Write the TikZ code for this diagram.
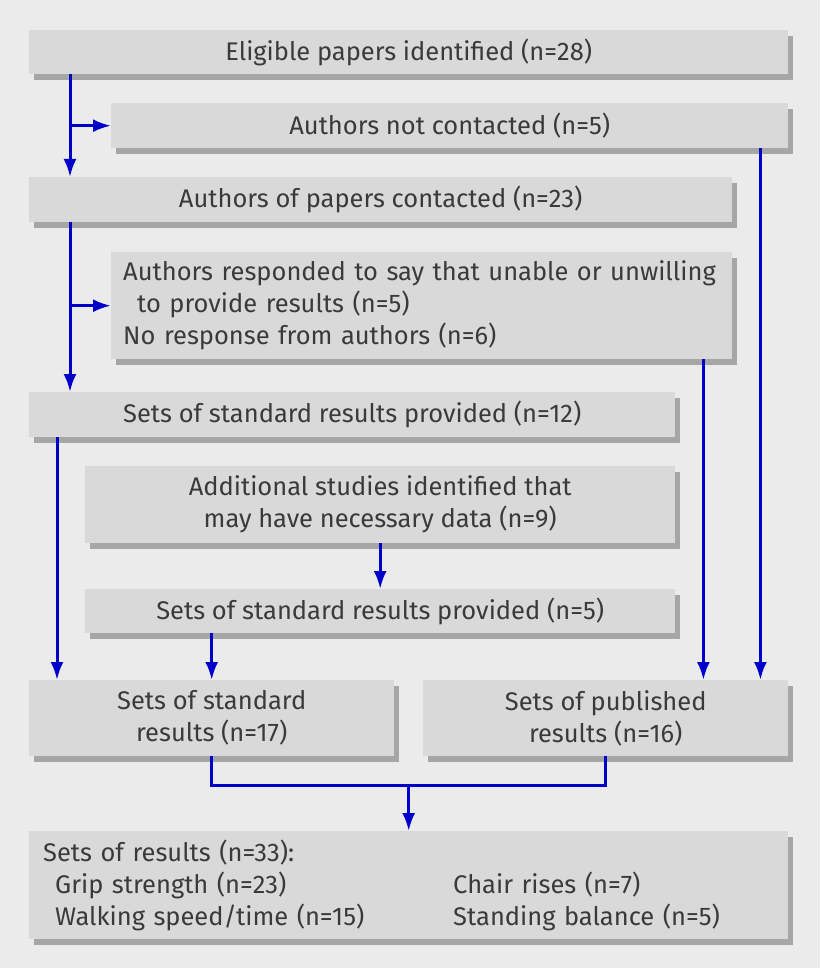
\documentclass[tikz,border=0pt]{standalone}
\usepackage{fontspec}
\setmainfont{Fira Sans}
\usetikzlibrary{arrows.meta,positioning,shadows,calc}

\definecolor{bggray}{HTML}{EBEBEB}
\definecolor{boxgray}{HTML}{D9D9D9}
\definecolor{shadegray}{HTML}{A6A6A6}
\definecolor{textgray}{HTML}{3A3A3A}
\definecolor{flowblue}{HTML}{0000C8}

\begin{document}
\begin{tikzpicture}[
  x=1pt, y=-1pt,
  box/.style={fill=boxgray, anchor=north west, inner sep=0pt, align=center, text=textgray,
    font=\fontsize{25.5}{32}\selectfont,
    drop shadow={shadow xshift=5pt, shadow yshift=-6pt, opacity=1, fill=shadegray}},
  leftbox/.style={box, inner xsep=12pt, align=left},
  arr/.style={-{Latex[length=18pt, width=13pt]}, line width=3pt, flowblue},
  link/.style={line width=3pt, flowblue},
]

% background
\fill[bggray] (0,0) rectangle (820,968);
\useasboundingbox (0,0) rectangle (820,968);

% trunk positions
\coordinate (trunk) at (70,0);

% Boxes (top to bottom)
\node[box, minimum width=759pt, minimum height=44pt] (elig) at (29,30) {Eligible papers identified (n=28)};
\node[box, minimum width=677pt, minimum height=45pt] (notcont) at (111,103) {Authors not contacted (n=5)};
\node[box, minimum width=703pt, minimum height=45pt] (contacted) at (29,177) {Authors of papers contacted (n=23)};
\node[leftbox, text width=597pt, minimum height=107pt] (respond) at (111,252)
  {\mbox{Authors responded to say that unable or unwilling}\\
   \hspace*{14pt}to provide results (n=5)\\
   No response from authors (n=6)};
\node[box, minimum width=646pt, minimum height=45pt] (std12) at (29,392) {Sets of standard results provided (n=12)};
\node[box, minimum width=590pt, minimum height=77pt] (extra) at (85,466)
  {Additional studies identified that\\ may have necessary data (n=9)};
\node[box, minimum width=590pt, minimum height=44pt] (std5) at (85,589) {Sets of standard results provided (n=5)};
\node[box, minimum width=365pt, minimum height=76pt] (std17) at (29,680) {Sets of standard\\ results (n=17)};
\node[box, minimum width=365pt, minimum height=76pt] (pub) at (423,680) {Sets of published\\ results (n=16)};
\node[leftbox, inner xsep=14pt, text width=731pt, minimum height=108pt] (final) at (29,831)
  {Sets of results (n=33):\\
   \hspace*{12pt}\makebox[398pt][l]{Grip strength (n=23)}Chair rises (n=7)\\
   \hspace*{12pt}\makebox[398pt][l]{Walking speed/time (n=15)}Standing balance (n=5)};

% Arrows: left trunk
\draw[arr] (elig.south -| trunk) -- (contacted.north -| trunk);
\draw[arr] (trunk |- notcont.west) -- (notcont.west);
\draw[arr] (contacted.south -| trunk) -- (std12.north -| trunk);
\draw[arr] (trunk |- respond.west) -- (respond.west);

% Arrows: into standard results
\draw[arr] ([xshift=28pt]std12.south west) -- ([xshift=28pt]std17.north west);
\draw[arr] (extra.south) -- (std5.north);
\draw[arr] (std17.north |- std5.south) -- (std17.north);

% Arrows: into published results
\draw[arr] ([xshift=-29pt]respond.south east) -- ([xshift=-29pt]respond.south east |- pub.north);
\draw[arr] ([xshift=-28pt]notcont.south east) -- ([xshift=-28pt]notcont.south east |- pub.north);

% Arrows: merge into final
\draw[link] (std17.south) -- ++(0,29) coordinate (join) -| (pub.south);
\draw[arr] (join -| final.north) -- (final.north);

\end{tikzpicture}
\end{document}
